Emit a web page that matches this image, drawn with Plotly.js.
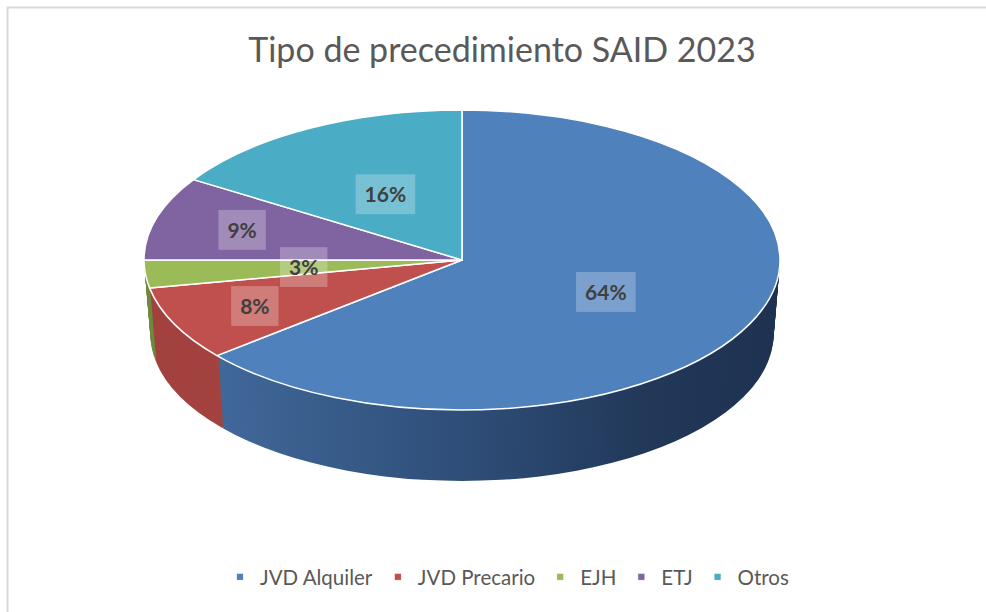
<!DOCTYPE html>
<html><head><meta charset="utf-8">
<script src="https://cdn.plot.ly/plotly-3.0.1.min.js"></script>
<style>html,body{margin:0;padding:0;background:#fff;} #chart{width:986px;height:612px;}</style>
</head><body><div id="chart"></div>
<script>
// ---- data ----
const labels = ['JVD Alquiler', 'JVD Precario', 'EJH', 'ETJ', 'Otros'];
const values = [64, 8, 3, 9, 16];
const topColors = ['#4F81BD', '#C0504D', '#9BBB59', '#8064A2', '#4BACC6'];
const wallColors = ['#2f5079', '#a3423f', '#6f8a3e', '#5a4675', '#2f7d93'];
const chartTitle = 'Tipo de precedimiento SAID 2023';

// ---- style ----
const FONT = 'Lato, "Open Sans", sans-serif';
const WALL_LAYERS = 36;
const TCX = 462, TCY = 260, RX = 318, RY = 150, DEPTH = 74;

const data = [];
for (let k = 0; k < WALL_LAYERS; k++) {
  data.push({
    type: 'pie', labels: labels, values: values, sort: false, direction: 'clockwise', rotation: 0,
    marker: {colors: wallColors, line: {width: 0}},
    textinfo: 'none', hoverinfo: 'skip', showlegend: false,
    domain: {x: [0, 1], y: [0, 1]}
  });
}
data.push({
  type: 'pie', labels: labels, values: values, sort: false, direction: 'clockwise', rotation: 0,
  marker: {colors: topColors, line: {color: '#ffffff', width: 1.5}},
  texttemplate: '%{percent:.0%}', textposition: 'inside', insidetextorientation: 'horizontal',
  textfont: {family: FONT, size: 21, color: '#404040', weight: 'bold'},
  hoverinfo: 'skip', showlegend: true,
  domain: {x: [0, 1], y: [0, 1]}
});

const layout = {
  width: 986, height: 612,
  margin: {l: 0, r: 0, t: 0, b: 0},
  paper_bgcolor: '#ffffff',
  uniformtext: {minsize: 21, mode: 'show'},
  title: {text: chartTitle, font: {family: FONT, size: 34, color: '#595959'},
          x: 502 / 986, xanchor: 'center', y: 1 - 50 / 612, yanchor: 'middle'},
  legend: {orientation: 'h', x: 507 / 986, xanchor: 'center', y: (612 - 577) / 612, yanchor: 'middle',
           font: {family: FONT, size: 20.5, color: '#595959'}},
  shapes: [{type: 'rect', xref: 'paper', yref: 'paper', x0: 7.5 / 986, x1: 1.05, y0: -0.05, y1: 1 - 7.5 / 612,
            line: {color: '#d9d9d9', width: 2}}]
};

const gd = document.getElementById('chart');
Plotly.newPlot(gd, data, layout, {staticPlot: true, displayModeBar: false}).then(function () {
  const NS = 'http://www.w3.org/2000/svg';
  const svg = gd.querySelector('.main-svg');
  const groups = gd.querySelectorAll('.pielayer > g.trace');
  const cdTop = gd.calcdata[WALL_LAYERS];
  const cd0 = cdTop[0];
  const cx = cd0.cx, cy = cd0.cy, r = cd0.r;
  const sx = RX / r, sy = RY / r;
  const total = values.reduce(function (a, b) { return a + b; }, 0);

  // gradient for the blue wall
  const defs = document.createElementNS(NS, 'defs');
  defs.innerHTML = '<linearGradient id="wallBlue" x1="0" y1="0" x2="1" y2="0">' +
    '<stop offset="0" stop-color="#406899"/><stop offset="0.45" stop-color="#2e4d77"/>' +
    '<stop offset="0.75" stop-color="#22395a"/><stop offset="1" stop-color="#1e3150"/></linearGradient>';
  svg.insertBefore(defs, svg.firstChild);

  groups.forEach(function (g, k) {
    if (k < WALL_LAYERS) {
      const off = DEPTH * (WALL_LAYERS - k) / WALL_LAYERS;
      const f = 1 - 0.02 * off / DEPTH;
      g.setAttribute('transform', 'translate(' + TCX + ',' + (TCY + off) + ') scale(' + (sx * f) + ',' + (sy * f) + ') translate(' + (-cx) + ',' + (-cy) + ')');
      const first = g.querySelector('g.slice path.surface');
      if (first) first.style.fill = 'url(#wallBlue)';
    } else {
      g.setAttribute('transform', 'translate(' + TCX + ',' + TCY + ') scale(' + sx + ',' + sy + ') translate(' + (-cx) + ',' + (-cy) + ')');
      g.querySelectorAll('path.surface').forEach(function (p) { p.setAttribute('vector-effect', 'non-scaling-stroke'); });
      const labelLayer = document.createElementNS(NS, 'g');
      g.parentNode.appendChild(labelLayer);
      g.querySelectorAll('g.slice').forEach(function (sl, i) {
        const st = sl.querySelector('g.slicetext');
        if (!st) return;
        const bb = st.getBBox();
        const c = {x: bb.x + bb.width / 2, y: bb.y + bb.height / 2};
        let px, py;
        const pt = cdTop[i];
        if (pt && pt.pxmid) {
          const share = values[i] / total;
          const frac = (share > 0.05 && share < 0.15) ? 0.72 : 0.5;
          px = TCX + sx * frac * pt.pxmid[0];
          py = TCY + sy * frac * pt.pxmid[1];
        } else {
          px = TCX + sx * (c.x - cx); py = TCY + sy * (c.y - cy);
        }
        const wrap = document.createElementNS(NS, 'g');
        wrap.setAttribute('transform', 'translate(' + (px - c.x) + ',' + (py - c.y) + ')');
        const rect = document.createElementNS(NS, 'rect');
        rect.setAttribute('x', bb.x - 9); rect.setAttribute('y', bb.y - 7);
        rect.setAttribute('width', bb.width + 18); rect.setAttribute('height', bb.height + 14);
        rect.setAttribute('fill', '#ffffff'); rect.setAttribute('fill-opacity', '0.25');
        wrap.appendChild(rect);
        wrap.appendChild(st);
        labelLayer.appendChild(wrap);
      });
    }
  });

  gd.querySelectorAll('.legendpoints path').forEach(function (p) {
    const t = p.getAttribute('transform') || '';
    p.setAttribute('transform', t + ' scale(0.6)');
  });
});
</script>
</body></html>
